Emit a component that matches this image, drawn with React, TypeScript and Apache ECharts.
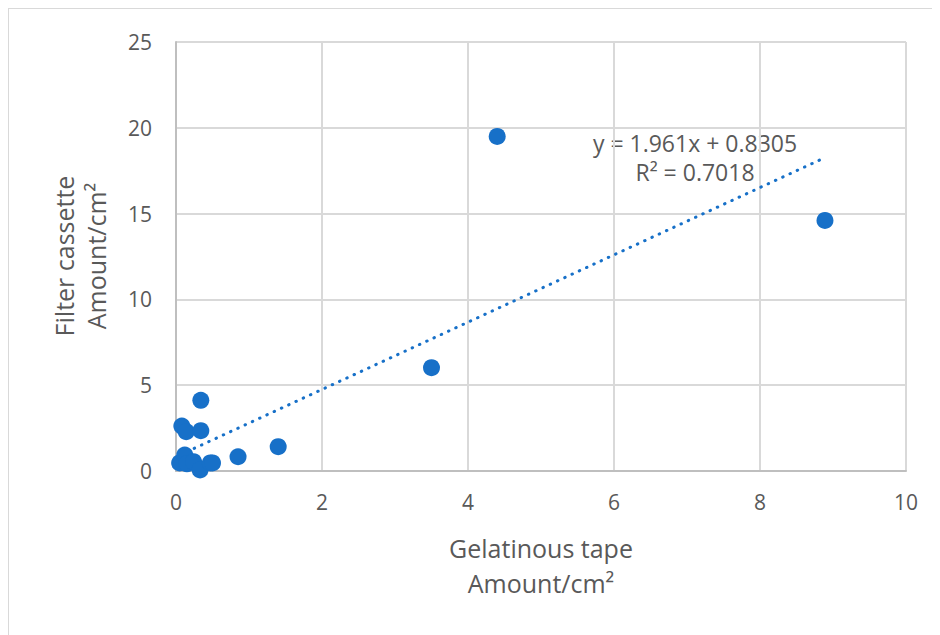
import React, { useEffect, useRef } from "react";
import * as echarts from "echarts";

const xValues = [0.05, 0.12, 0.15, 0.24, 0.33, 0.47, 0.5, 0.85, 1.4, 0.08, 0.14, 0.34, 0.34, 3.5, 4.4, 8.89];
const yValues = [0.47, 0.93, 0.42, 0.54, 0.06, 0.47, 0.47, 0.83, 1.42, 2.62, 2.29, 2.35, 4.12, 6.02, 19.5, 14.6];
const slope = 1.961;
const intercept = 0.8305;
const equationLabel = "y = 1.961x + 0.8305";
const r2Label = "R² = 0.7018";
const xTitle = ["Gelatinous tape", "Amount/cm²"];
const yTitle = ["Filter cassette", "Amount/cm²"];

const FONT = "'Open Sans', 'Noto Sans', sans-serif";
const GRAY = "#595959";

export default function App() {
  const ref = useRef<HTMLDivElement>(null);
  useEffect(() => {
    if (!ref.current) return;
    const chart = echarts.init(ref.current, null, { renderer: "svg" });
    const pts = xValues.map((x, i) => [x, yValues[i]]);
    const minX = Math.min(...xValues);
    const maxX = Math.max(...xValues);
    const trend = [
      [minX, slope * minX + intercept],
      [maxX, slope * maxX + intercept],
    ];
    chart.setOption({
      animation: false,
      backgroundColor: "#ffffff",
      grid: { left: 167, top: 33, width: 730, height: 429, containLabel: false },
      xAxis: {
        type: "value",
        min: 0,
        max: 10,
        interval: 2,
        axisLine: { show: true, onZero: false, lineStyle: { color: "#bfbfbf", width: 2 } },
        axisTick: { show: false },
        axisLabel: { color: GRAY, fontSize: 21, fontFamily: FONT, margin: 20 },
        splitLine: { show: true, lineStyle: { color: "#d9d9d9", width: 2 } },
      },
      yAxis: {
        type: "value",
        min: 0,
        max: 25,
        interval: 5,
        axisLine: { show: true, onZero: false, lineStyle: { color: "#bfbfbf", width: 2 } },
        axisTick: { show: false },
        axisLabel: { color: GRAY, fontSize: 21, fontFamily: FONT, margin: 24 },
        splitLine: { show: true, lineStyle: { color: "#d9d9d9", width: 2 } },
      },
      series: [
        {
          type: "line",
          data: trend,
          showSymbol: false,
          symbol: "none",
          lineStyle: { color: "#1770c8", width: 3, type: [0.5, 7.5], cap: "round" },
          z: 2,
        },
        {
          type: "scatter",
          data: pts,
          symbolSize: 17,
          itemStyle: { color: "#1770c8", opacity: 1 },
          z: 3,
        },
      ],
      graphic: [
        {
          type: "text",
          x: 686,
          y: 134,
          style: { text: equationLabel, fill: GRAY, font: `23px ${FONT}`, textAlign: "center", textVerticalAlign: "middle" },
        },
        {
          type: "text",
          x: 686,
          y: 163,
          style: { text: r2Label, fill: GRAY, font: `23px ${FONT}`, textAlign: "center", textVerticalAlign: "middle" },
        },
        {
          type: "text",
          x: 532,
          y: 539,
          style: { text: xTitle[0], fill: GRAY, font: `25px ${FONT}`, textAlign: "center", textVerticalAlign: "middle" },
        },
        {
          type: "text",
          x: 532,
          y: 574,
          style: { text: xTitle[1], fill: GRAY, font: `25px ${FONT}`, textAlign: "center", textVerticalAlign: "middle" },
        },
        {
          type: "text",
          x: 55,
          y: 247,
          rotation: Math.PI / 2,
          style: { text: yTitle[0], fill: GRAY, font: `25px ${FONT}`, textAlign: "center", textVerticalAlign: "middle" },
        },
        {
          type: "text",
          x: 87,
          y: 247,
          rotation: Math.PI / 2,
          style: { text: yTitle[1], fill: GRAY, font: `25px ${FONT}`, textAlign: "center", textVerticalAlign: "middle" },
        },
      ],
    });
    return () => chart.dispose();
  }, []);
  return (
    <div
      style={{
        width: 931,
        height: 626,
        borderLeft: "1px solid #d9d9d9",
        borderTop: "1px solid #d9d9d9",
        overflow: "hidden",
      }}
    >
      <div ref={ref} style={{ width: 931, height: 626 }} />
    </div>
  );
}
